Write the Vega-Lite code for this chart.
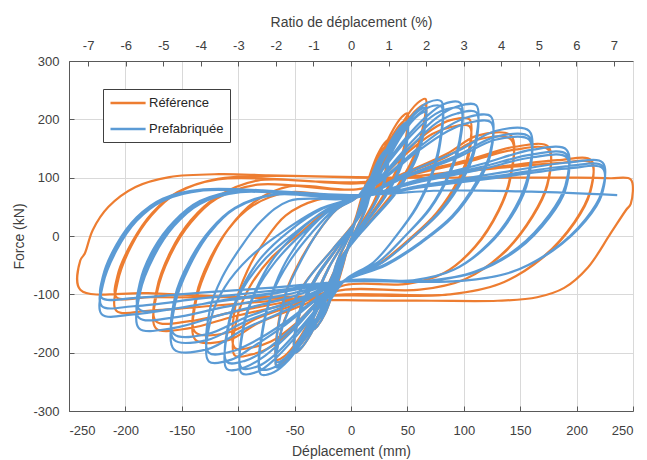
{
"$schema":"https://vega.github.io/schema/vega-lite/v6.json",
"width":564,"height":350,
"autosize":{"type":"none"},
"padding":{"left":69,"top":61,"right":14,"bottom":49},
"background":"white",
"config":{"font":"Liberation Sans","view":{"stroke":null},
 "axis":{"labelFont":"Liberation Sans","titleFont":"Liberation Sans","labelFontSize":13,"titleFontSize":14,"titleFontWeight":"normal","labelColor":"#404040","titleColor":"#404040","domainColor":"#595959","tickColor":"#595959","gridColor":"#d9d9d9","tickSize":-5}},
"layer":[
 {"layer":[
  {"data":{"values":[
{"x":0,"y":0},{"x":7,"y":50},{"x":12,"y":83},{"x":15,"y":97},{"x":17,"y":100},
{"x":15,"y":65},{"x":10,"y":35},{"x":4,"y":10},{"x":-2,"y":-15},{"x":-7,"y":-50},{"x":-12,"y":-83},{"x":-15,"y":-97},{"x":-17,"y":-100},
{"x":-15,"y":-65},{"x":-10,"y":-35},{"x":-4,"y":-10},{"x":2,"y":14},{"x":7,"y":48},{"x":12,"y":79},{"x":15,"y":92},{"x":17,"y":95},
{"x":15,"y":62},{"x":10,"y":33},{"x":4,"y":10},{"x":-2,"y":-14},{"x":-7,"y":-48},{"x":-12,"y":-79},{"x":-15,"y":-92},{"x":-17,"y":-95},
{"x":-15,"y":-62},{"x":-10,"y":-33},{"x":-4,"y":-10},{"x":3,"y":25},{"x":13,"y":83},{"x":23,"y":137},{"x":30,"y":160},{"x":33,"y":165},
{"x":30,"y":107},{"x":20,"y":58},{"x":8,"y":17},{"x":-3,"y":-24},{"x":-13,"y":-80},{"x":-23,"y":-133},{"x":-30,"y":-155},{"x":-33,"y":-160},
{"x":-30,"y":-104},{"x":-20,"y":-56},{"x":-8,"y":-16},{"x":3,"y":24},{"x":13,"y":79},{"x":23,"y":131},{"x":30,"y":153},{"x":33,"y":158},
{"x":30,"y":103},{"x":20,"y":55},{"x":8,"y":16},{"x":-3,"y":-23},{"x":-13,"y":-76},{"x":-23,"y":-126},{"x":-30,"y":-147},{"x":-33,"y":-152},
{"x":-30,"y":-100},{"x":-20,"y":-55},{"x":-8,"y":-16},{"x":5,"y":32},{"x":20,"y":105},{"x":35,"y":174},{"x":45,"y":204},{"x":50,"y":210},
{"x":45,"y":137},{"x":30,"y":74},{"x":12,"y":21},{"x":-5,"y":-30},{"x":-20,"y":-100},{"x":-35,"y":-166},{"x":-45,"y":-194},{"x":-50,"y":-200},
{"x":-45,"y":-130},{"x":-30,"y":-70},{"x":-12,"y":-20},{"x":5,"y":30},{"x":20,"y":100},{"x":35,"y":166},{"x":45,"y":194},{"x":50,"y":200},
{"x":45,"y":130},{"x":30,"y":70},{"x":12,"y":20},{"x":-5,"y":-29},{"x":-20,"y":-96},{"x":-35,"y":-159},{"x":-45,"y":-186},{"x":-50,"y":-192},
{"x":-45,"y":-125},{"x":-30,"y":-67},{"x":-12,"y":-19},{"x":7,"y":35},{"x":26,"y":118},{"x":46,"y":195},{"x":59,"y":228},{"x":66,"y":235},
{"x":59,"y":153},{"x":40,"y":82},{"x":16,"y":24},{"x":-7,"y":-33},{"x":-26,"y":-111},{"x":-46,"y":-184},{"x":-59,"y":-215},{"x":-66,"y":-222},
{"x":-59,"y":-144},{"x":-40,"y":-78},{"x":-16,"y":-22},{"x":7,"y":34},{"x":26,"y":113},{"x":46,"y":187},{"x":59,"y":218},{"x":66,"y":225},
{"x":59,"y":146},{"x":40,"y":79},{"x":16,"y":23},{"x":-7,"y":-32},{"x":-26,"y":-106},{"x":-46,"y":-176},{"x":-59,"y":-206},{"x":-66,"y":-212},
{"x":-64,"y":-145},{"x":-57,"y":-92},{"x":-45,"y":-42},{"x":-30,"y":5},{"x":-13,"y":45},{"x":5,"y":66},{"x":26,"y":100},{"x":50,"y":148},{"x":72,"y":183},{"x":89,"y":199},{"x":105,"y":200},
{"x":104,"y":142},{"x":95,"y":96},{"x":76,"y":40},{"x":52,"y":-5},{"x":26,"y":-46},{"x":-5,"y":-76},{"x":-26,"y":-108},{"x":-49,"y":-155},{"x":-71,"y":-190},{"x":-88,"y":-203},{"x":-103,"y":-205},
{"x":-101,"y":-140},{"x":-90,"y":-88},{"x":-71,"y":-38},{"x":-45,"y":5},{"x":-20,"y":45},{"x":5,"y":66},{"x":26,"y":98},{"x":50,"y":143},{"x":72,"y":175},{"x":89,"y":187},{"x":105,"y":188},
{"x":104,"y":134},{"x":95,"y":90},{"x":76,"y":36},{"x":52,"y":-7},{"x":26,"y":-47},{"x":-5,"y":-76},{"x":-26,"y":-106},{"x":-49,"y":-150},{"x":-71,"y":-181},{"x":-88,"y":-191},{"x":-103,"y":-192},
{"x":-102,"y":-115},{"x":-92,"y":-60},{"x":-77,"y":-10},{"x":-58,"y":35},{"x":-30,"y":62},{"x":5,"y":68},{"x":43,"y":104},{"x":85,"y":141},{"x":112,"y":172},{"x":142,"y":172},
{"x":141,"y":100},{"x":131,"y":45},{"x":110,"y":-18},{"x":82,"y":-64},{"x":50,"y":-82},{"x":-5,"y":-84},{"x":-41,"y":-117},{"x":-83,"y":-150},{"x":-108,"y":-178},{"x":-138,"y":-178},
{"x":-137,"y":-108},{"x":-125,"y":-44},{"x":-109,"y":11},{"x":-88,"y":51},{"x":-55,"y":75},{"x":5,"y":68},{"x":43,"y":102},{"x":85,"y":136},{"x":112,"y":165},{"x":142,"y":165},
{"x":141,"y":96},{"x":131,"y":43},{"x":110,"y":-19},{"x":82,"y":-64},{"x":50,"y":-82},{"x":-5,"y":-84},{"x":-41,"y":-112},{"x":-83,"y":-141},{"x":-108,"y":-165},{"x":-138,"y":-165},
{"x":-137,"y":-101},{"x":-125,"y":-39},{"x":-108,"y":14},{"x":-86,"y":58},{"x":-55,"y":85},{"x":5,"y":80},{"x":52,"y":106},{"x":105,"y":131},{"x":145,"y":153},{"x":175,"y":153},
{"x":174,"y":89},{"x":161,"y":35},{"x":135,"y":-29},{"x":101,"y":-74},{"x":61,"y":-92},{"x":-5,"y":-92},{"x":-52,"y":-115},{"x":-104,"y":-138},{"x":-143,"y":-158},{"x":-173,"y":-158},
{"x":-172,"y":-97},{"x":-160,"y":-32},{"x":-142,"y":23},{"x":-119,"y":64},{"x":-83,"y":88},{"x":5,"y":80},{"x":52,"y":104},{"x":105,"y":128},{"x":145,"y":148},{"x":175,"y":148},
{"x":174,"y":86},{"x":161,"y":33},{"x":135,"y":-30},{"x":101,"y":-74},{"x":61,"y":-92},{"x":-5,"y":-92},{"x":-52,"y":-111},{"x":-104,"y":-130},{"x":-143,"y":-146},{"x":-173,"y":-146},
{"x":-172,"y":-90},{"x":-160,"y":-27},{"x":-142,"y":27},{"x":-119,"y":67},{"x":-83,"y":95},{"x":5,"y":90},{"x":64,"y":104},{"x":128,"y":118},{"x":183,"y":130},{"x":213,"y":130},
{"x":212,"y":77},{"x":198,"y":24},{"x":169,"y":-38},{"x":132,"y":-82},{"x":88,"y":-100},{"x":-5,"y":-100},{"x":-62,"y":-110},{"x":-125,"y":-120},{"x":-178,"y":-128},{"x":-208,"y":-128},
{"x":-207,"y":-80},{"x":-195,"y":-18},{"x":-177,"y":35},{"x":-154,"y":74},{"x":-118,"y":97},{"x":5,"y":92},{"x":64,"y":104},{"x":128,"y":116},{"x":183,"y":125},{"x":213,"y":125},
{"x":212,"y":74},{"x":198,"y":22},{"x":169,"y":-39},{"x":132,"y":-82},{"x":88,"y":-100},{"x":-5,"y":-102},{"x":-62,"y":-104},{"x":-125,"y":-105},{"x":-178,"y":-105},{"x":-208,"y":-105},
{"x":-207,"y":-68},{"x":-194,"y":-10},{"x":-176,"y":40},{"x":-154,"y":75},{"x":-118,"y":98},{"x":-60,"y":103},{"x":5,"y":100},{"x":100,"y":100},{"x":200,"y":100},{"x":230,"y":99},{"x":248,"y":97},
{"x":248,"y":55},{"x":244,"y":45},{"x":230,"y":4},{"x":210,"y":-54},{"x":189,"y":-89},{"x":165,"y":-105},{"x":130,"y":-111},{"x":71,"y":-111},{"x":-5,"y":-110},{"x":-100,"y":-105},{"x":-180,"y":-98},{"x":-240,"y":-92},
{"x":-240,"y":-42},{"x":-236,"y":-30},{"x":-229,"y":10},{"x":-215,"y":50},{"x":-191,"y":84},{"x":-161,"y":101},{"x":-117,"y":106},{"x":-73,"y":104},{"x":-20,"y":102},{"x":40,"y":100}
  ]},
  "mark":{"type":"line","strokeWidth":2.2,"interpolate":"catmull-rom"},
  "encoding":{
   "x":{"field":"x","type":"quantitative","scale":{"domain":[-250,250],"nice":false,"zero":false},
    "axis":{"orient":"bottom","title":"Déplacement (mm)","values":[-250,-225,-200,-175,-150,-125,-100,-75,-50,-25,0,25,50,75,100,125,150,175,200,225,250],
     "labelExpr":"abs(datum.value) % 50 === 0 ? '' + datum.value : ''",
     "tickOpacity":{"condition":{"test":"abs(datum.value) % 50 === 0","value":1},"value":0},
     "grid":true,"labelPadding":18,"titlePadding":7}},
   "y":{"field":"y","type":"quantitative","scale":{"domain":[-300,300],"nice":false,"zero":false},
    "axis":{"title":"Force (kN)","values":[-300,-250,-200,-150,-100,-50,0,50,100,150,200,250,300],
     "labelExpr":"'' + datum.value","grid":true,"labelPadding":15,"titlePadding":6}},
   "color":{"datum":"Référence","type":"nominal","scale":{"domain":["Référence","Prefabriquée"],"range":["#ED7D31","#5B9BD5"]},
    "legend":{"title":null,"orient":"none","legendX":34,"legendY":28,"symbolType":"M-1,0H4.4","symbolSize":169,"symbolStrokeWidth":2.5,
     "strokeColor":"#404040","fillColor":"white","padding":6,"labelOffset":24,"rowPadding":11,"labelFontSize":13,"labelFont":"Liberation Sans","labelColor":"#262626"}},
   "order":{"value":null}
  }},
  {"data":{"values":[
{"x":0,"y":0},{"x":7,"y":45},{"x":12,"y":70},{"x":15,"y":85},{"x":17,"y":90},
{"x":15,"y":58},{"x":10,"y":32},{"x":4,"y":9},{"x":-2,"y":-14},{"x":-7,"y":-48},{"x":-12,"y":-79},{"x":-15,"y":-92},{"x":-17,"y":-95},
{"x":-15,"y":-62},{"x":-10,"y":-33},{"x":-4,"y":-10},{"x":2,"y":14},{"x":7,"y":45},{"x":12,"y":75},{"x":15,"y":87},{"x":17,"y":88},
{"x":15,"y":57},{"x":10,"y":31},{"x":4,"y":9},{"x":-2,"y":-14},{"x":-7,"y":-47},{"x":-12,"y":-78},{"x":-15,"y":-90},{"x":-17,"y":-92},
{"x":-15,"y":-60},{"x":-10,"y":-33},{"x":-4,"y":-10},{"x":3,"y":22},{"x":13,"y":75},{"x":23,"y":125},{"x":30,"y":146},{"x":33,"y":150},
{"x":30,"y":98},{"x":20,"y":52},{"x":8,"y":15},{"x":-3,"y":-24},{"x":-13,"y":-80},{"x":-23,"y":-133},{"x":-30,"y":-155},{"x":-33,"y":-160},
{"x":-30,"y":-104},{"x":-20,"y":-56},{"x":-8,"y":-16},{"x":3,"y":22},{"x":13,"y":73},{"x":23,"y":120},{"x":30,"y":141},{"x":33,"y":145},
{"x":30,"y":94},{"x":20,"y":51},{"x":8,"y":14},{"x":-3,"y":-23},{"x":-13,"y":-76},{"x":-23,"y":-126},{"x":-30,"y":-147},{"x":-33,"y":-152},
{"x":-30,"y":-100},{"x":-20,"y":-55},{"x":-8,"y":-16},{"x":5,"y":29},{"x":20,"y":98},{"x":35,"y":162},{"x":45,"y":189},{"x":50,"y":195},
{"x":45,"y":127},{"x":30,"y":68},{"x":12,"y":20},{"x":-5,"y":-30},{"x":-20,"y":-100},{"x":-35,"y":-166},{"x":-45,"y":-194},{"x":-50,"y":-200},
{"x":-45,"y":-130},{"x":-30,"y":-70},{"x":-12,"y":-20},{"x":5,"y":28},{"x":20,"y":94},{"x":35,"y":156},{"x":45,"y":182},{"x":50,"y":188},
{"x":45,"y":122},{"x":30,"y":66},{"x":12,"y":19},{"x":-5,"y":-29},{"x":-20,"y":-96},{"x":-35,"y":-159},{"x":-45,"y":-186},{"x":-50,"y":-192},
{"x":-45,"y":-125},{"x":-30,"y":-67},{"x":-12,"y":-19},{"x":7,"y":33},{"x":26,"y":110},{"x":46,"y":183},{"x":59,"y":213},{"x":66,"y":220},
{"x":59,"y":143},{"x":40,"y":77},{"x":16,"y":22},{"x":-7,"y":-34},{"x":-26,"y":-112},{"x":-46,"y":-187},{"x":-59,"y":-218},{"x":-66,"y":-225},
{"x":-59,"y":-146},{"x":-40,"y":-79},{"x":-16,"y":-22},{"x":7,"y":32},{"x":26,"y":106},{"x":46,"y":176},{"x":59,"y":206},{"x":66,"y":212},
{"x":59,"y":138},{"x":40,"y":74},{"x":16,"y":21},{"x":-7,"y":-32},{"x":-26,"y":-108},{"x":-46,"y":-179},{"x":-59,"y":-210},{"x":-66,"y":-216},
{"x":-64,"y":-150},{"x":-57,"y":-95},{"x":-45,"y":-45},{"x":-30,"y":5},{"x":-13,"y":45},{"x":5,"y":66},{"x":20,"y":108},{"x":38,"y":165},{"x":55,"y":208},{"x":68,"y":229},{"x":80,"y":231},
{"x":79,"y":165},{"x":72,"y":110},{"x":58,"y":50},{"x":40,"y":0},{"x":20,"y":-45},{"x":-5,"y":-75},{"x":-20,"y":-115},{"x":-38,"y":-168},{"x":-55,"y":-212},{"x":-68,"y":-233},{"x":-80,"y":-237},
{"x":-78,"y":-160},{"x":-70,"y":-100},{"x":-55,"y":-45},{"x":-35,"y":5},{"x":-15,"y":45},{"x":5,"y":66},{"x":20,"y":105},{"x":38,"y":160},{"x":55,"y":200},{"x":68,"y":220},{"x":80,"y":222},
{"x":79,"y":158},{"x":72,"y":105},{"x":58,"y":48},{"x":40,"y":0},{"x":20,"y":-45},{"x":-5,"y":-75},{"x":-20,"y":-112},{"x":-38,"y":-162},{"x":-55,"y":-205},{"x":-68,"y":-225},{"x":-80,"y":-228},
{"x":-78,"y":-155},{"x":-70,"y":-98},{"x":-58,"y":-45},{"x":-40,"y":5},{"x":-18,"y":45},{"x":5,"y":66},{"x":24,"y":106},{"x":46,"y":162},{"x":67,"y":205},{"x":82,"y":226},{"x":97,"y":228},
{"x":96,"y":162},{"x":87,"y":108},{"x":70,"y":48},{"x":48,"y":0},{"x":24,"y":-45},{"x":-5,"y":-75},{"x":-24,"y":-113},{"x":-46,"y":-166},{"x":-67,"y":-210},{"x":-82,"y":-232},{"x":-97,"y":-235},
{"x":-95,"y":-155},{"x":-85,"y":-98},{"x":-67,"y":-44},{"x":-43,"y":5},{"x":-18,"y":45},{"x":5,"y":66},{"x":24,"y":104},{"x":46,"y":157},{"x":67,"y":198},{"x":82,"y":216},{"x":97,"y":218},
{"x":96,"y":155},{"x":87,"y":104},{"x":70,"y":46},{"x":48,"y":0},{"x":24,"y":-45},{"x":-5,"y":-75},{"x":-24,"y":-110},{"x":-46,"y":-160},{"x":-67,"y":-203},{"x":-82,"y":-223},{"x":-97,"y":-226},
{"x":-95,"y":-150},{"x":-85,"y":-95},{"x":-70,"y":-42},{"x":-48,"y":5},{"x":-22,"y":45},{"x":5,"y":66},{"x":28,"y":105},{"x":53,"y":160},{"x":76,"y":203},{"x":94,"y":222},{"x":111,"y":224},
{"x":110,"y":158},{"x":100,"y":105},{"x":80,"y":45},{"x":55,"y":-2},{"x":28,"y":-45},{"x":-5,"y":-75},{"x":-28,"y":-112},{"x":-52,"y":-163},{"x":-76,"y":-205},{"x":-94,"y":-225},{"x":-110,"y":-228},
{"x":-108,"y":-150},{"x":-97,"y":-94},{"x":-77,"y":-41},{"x":-50,"y":5},{"x":-22,"y":44},{"x":5,"y":66},{"x":28,"y":102},{"x":53,"y":153},{"x":76,"y":194},{"x":94,"y":210},{"x":111,"y":212},
{"x":110,"y":150},{"x":100,"y":100},{"x":80,"y":43},{"x":55,"y":-2},{"x":28,"y":-45},{"x":-5,"y":-75},{"x":-28,"y":-110},{"x":-52,"y":-157},{"x":-76,"y":-196},{"x":-94,"y":-214},{"x":-110,"y":-216},
{"x":-108,"y":-145},{"x":-97,"y":-90},{"x":-80,"y":-38},{"x":-55,"y":8},{"x":-25,"y":47},{"x":5,"y":68},{"x":31,"y":103},{"x":59,"y":150},{"x":86,"y":188},{"x":104,"y":204},{"x":124,"y":205},
{"x":123,"y":140},{"x":112,"y":95},{"x":90,"y":35},{"x":62,"y":-10},{"x":31,"y":-48},{"x":-5,"y":-76},{"x":-31,"y":-110},{"x":-60,"y":-155},{"x":-87,"y":-190},{"x":-106,"y":-212},{"x":-126,"y":-215},
{"x":-124,"y":-140},{"x":-112,"y":-88},{"x":-90,"y":-37},{"x":-60,"y":8},{"x":-27,"y":47},{"x":5,"y":68},{"x":31,"y":101},{"x":59,"y":145},{"x":86,"y":180},{"x":104,"y":194},{"x":124,"y":195},
{"x":123,"y":135},{"x":112,"y":90},{"x":90,"y":32},{"x":62,"y":-12},{"x":31,"y":-50},{"x":-5,"y":-76},{"x":-31,"y":-108},{"x":-60,"y":-150},{"x":-87,"y":-182},{"x":-106,"y":-198},{"x":-126,"y":-200},
{"x":-125,"y":-125},{"x":-114,"y":-70},{"x":-98,"y":-20},{"x":-80,"y":25},{"x":-55,"y":60},{"x":5,"y":66},{"x":47,"y":106},{"x":95,"y":146},{"x":128,"y":180},{"x":158,"y":180},
{"x":157,"y":104},{"x":146,"y":50},{"x":122,"y":-13},{"x":91,"y":-58},{"x":55,"y":-76},{"x":-5,"y":-77},{"x":-47,"y":-118},{"x":-94,"y":-159},{"x":-127,"y":-194},{"x":-157,"y":-194},
{"x":-156,"y":-117},{"x":-143,"y":-51},{"x":-125,"y":6},{"x":-103,"y":47},{"x":-67,"y":72},{"x":5,"y":66},{"x":47,"y":102},{"x":95,"y":139},{"x":128,"y":170},{"x":158,"y":170},
{"x":157,"y":99},{"x":146,"y":47},{"x":122,"y":-14},{"x":91,"y":-58},{"x":55,"y":-76},{"x":-5,"y":-77},{"x":-47,"y":-112},{"x":-94,"y":-147},{"x":-127,"y":-178},{"x":-157,"y":-178},
{"x":-156,"y":-108},{"x":-143,"y":-45},{"x":-125,"y":8},{"x":-103,"y":47},{"x":-67,"y":71},{"x":5,"y":66},{"x":47,"y":100},{"x":95,"y":135},{"x":128,"y":165},{"x":158,"y":165},
{"x":157,"y":96},{"x":146,"y":45},{"x":122,"y":-15},{"x":91,"y":-58},{"x":55,"y":-76},{"x":-5,"y":-77},{"x":-47,"y":-108},{"x":-94,"y":-140},{"x":-127,"y":-168},{"x":-157,"y":-168},
{"x":-156,"y":-104},{"x":-143,"y":-42},{"x":-125,"y":10},{"x":-103,"y":48},{"x":-67,"y":72},{"x":5,"y":66},{"x":57,"y":95},{"x":115,"y":123},{"x":161,"y":148},{"x":191,"y":148},
{"x":190,"y":86},{"x":176,"y":37},{"x":148,"y":-20},{"x":110,"y":-61},{"x":67,"y":-77},{"x":-5,"y":-78},{"x":-56,"y":-106},{"x":-113,"y":-134},{"x":-158,"y":-158},{"x":-188,"y":-158},
{"x":-187,"y":-97},{"x":-175,"y":-36},{"x":-157,"y":17},{"x":-134,"y":55},{"x":-98,"y":75},{"x":5,"y":67},{"x":57,"y":93},{"x":115,"y":118},{"x":161,"y":140},{"x":191,"y":140},
{"x":190,"y":82},{"x":176,"y":34},{"x":148,"y":-22},{"x":110,"y":-62},{"x":67,"y":-77},{"x":-5,"y":-78},{"x":-56,"y":-100},{"x":-113,"y":-122},{"x":-158,"y":-140},{"x":-188,"y":-140},
{"x":-187,"y":-87},{"x":-175,"y":-29},{"x":-157,"y":20},{"x":-134,"y":57},{"x":-98,"y":76},{"x":5,"y":67},{"x":57,"y":91},{"x":115,"y":114},{"x":161,"y":135},{"x":191,"y":135},
{"x":190,"y":79},{"x":176,"y":32},{"x":148,"y":-23},{"x":110,"y":-62},{"x":67,"y":-77},{"x":-5,"y":-78},{"x":-56,"y":-94},{"x":-113,"y":-110},{"x":-158,"y":-125},{"x":-188,"y":-125},
{"x":-187,"y":-79},{"x":-175,"y":-22},{"x":-157,"y":25},{"x":-134,"y":60},{"x":-98,"y":78},{"x":5,"y":68},{"x":67,"y":88},{"x":134,"y":109},{"x":193,"y":126},{"x":223,"y":126},
{"x":222,"y":74},{"x":208,"y":29},{"x":179,"y":-24},{"x":142,"y":-62},{"x":98,"y":-77},{"x":-5,"y":-78},{"x":-66,"y":-98},{"x":-133,"y":-117},{"x":-191,"y":-134},{"x":-221,"y":-134},
{"x":-220,"y":-84},{"x":-208,"y":-25},{"x":-190,"y":26},{"x":-167,"y":60},{"x":-131,"y":78},{"x":5,"y":68},{"x":67,"y":86},{"x":134,"y":104},{"x":193,"y":120},{"x":223,"y":120},
{"x":222,"y":71},{"x":208,"y":27},{"x":179,"y":-25},{"x":142,"y":-62},{"x":98,"y":-77},{"x":-5,"y":-78},{"x":-66,"y":-93},{"x":-133,"y":-107},{"x":-191,"y":-120},{"x":-221,"y":-120},
{"x":-220,"y":-76},{"x":-208,"y":-19},{"x":-190,"y":30},{"x":-167,"y":62},{"x":-131,"y":79},{"x":5,"y":68},{"x":67,"y":85},{"x":134,"y":101},{"x":193,"y":116},{"x":223,"y":116},
{"x":222,"y":69},{"x":208,"y":26},{"x":179,"y":-25},{"x":142,"y":-62},{"x":98,"y":-77},{"x":-5,"y":-78},{"x":-66,"y":-88},{"x":-133,"y":-97},{"x":-191,"y":-106},{"x":-221,"y":-106},
{"x":-220,"y":-70},{"x":-208,"y":-15},{"x":-190,"y":32},{"x":-167,"y":64},{"x":-131,"y":80},{"x":5,"y":70},{"x":80,"y":78},{"x":160,"y":76},{"x":236,"y":70}
  ]},
  "mark":{"type":"line","strokeWidth":2.2,"interpolate":"catmull-rom"},
  "encoding":{
   "x":{"field":"x","type":"quantitative"},
   "y":{"field":"y","type":"quantitative"},
   "color":{"datum":"Prefabriquée","type":"nominal"},
   "order":{"value":null}
  }}
 ]},
 {"data":{"values":[{"r":-7.51},{"r":7.51}]},
  "mark":{"type":"point","opacity":0},
  "encoding":{
   "x":{"field":"r","type":"quantitative","scale":{"domain":[-7.51,7.51],"nice":false,"zero":false},
    "axis":{"orient":"top","title":"Ratio de déplacement (%)","values":[-7,-6,-5,-4,-3,-2,-1,0,1,2,3,4,5,6,7],
     "labelExpr":"'' + datum.value","grid":false,"labelPadding":14,"titlePadding":10}}
  }}
],
"resolve":{"scale":{"x":"independent"}}
}
